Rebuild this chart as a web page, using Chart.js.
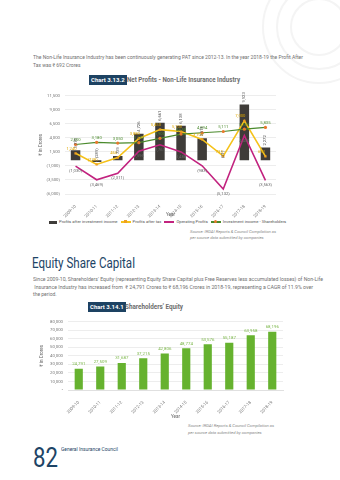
<!DOCTYPE html>
<html><head><meta charset="utf-8">
<script src="https://cdn.jsdelivr.net/npm/chart.js@4.4.0/dist/chart.umd.min.js"></script>
<style>
html,body{margin:0;padding:0;background:#fff;width:340px;height:480px;overflow:hidden;font-family:Roboto,"Liberation Sans",sans-serif;}
.abs{position:absolute;white-space:nowrap;transform-origin:0 0;line-height:1;}
.p{color:#707070;font-size:5px;}
.box{background:#1d4262;color:#fff;font-weight:bold;font-size:6px;padding:2px 2px;}
.ct{color:#6e6e6e;font-weight:bold;font-size:6.5px;}
.src{color:#8a8a8a;font-style:italic;font-size:4.2px;}
.leg{font-size:4.2px;color:#555;display:flex;align-items:center;}
.leg span.sw{display:inline-block;position:relative;margin-right:2px;}
.ring{position:absolute;border-radius:50%;border:2px solid #f4f4f4;}
canvas{position:absolute;}
</style></head>
<body>
<div class="ring" style="left:262px;top:-30px;width:110px;height:110px;"></div>
<div class="ring" style="left:276px;top:-16px;width:82px;height:82px;"></div>
<div class="ring" style="left:290px;top:-2px;width:54px;height:54px;"></div>

<div class="abs p" data-fit="270" style="left:33px;top:55px;">The Non-Life Insurance Industry has been continuously generating PAT since 2012-13. In the year 2018-19 the Profit After</div>
<div class="abs p" style="left:33px;top:63px;">Tax was ₹ 692 Crores</div>

<div class="abs box" style="left:89px;top:75px;">Chart 3.13.2</div>
<div class="abs ct" data-fit="113" style="left:127px;top:77px;">Net Profits - Non-Life Insurance Industry</div>

<canvas id="c1" width="243" height="130" style="left:37px;top:88px;"></canvas>

<div class="abs leg" style="left:49px;top:220px;">
  <span class="sw" style="width:8px;height:3px;background:#3f3c39;"></span><span style="margin-right:3px;">Profits after investment income</span>
  <span class="sw" style="width:10px;height:1.3px;background:#f5c21b;"><i style="position:absolute;left:3.5px;top:-1px;width:3px;height:3px;background:#f0a020;"></i></span><span style="margin-right:3px;">Profits after tax</span>
  <span class="sw" style="width:10px;height:1.3px;background:#c2237f;"></span><span style="margin-right:3px;">Operating Profits</span>
  <span class="sw" style="width:10px;height:1.3px;background:#4a8a2c;"><i style="position:absolute;left:3.5px;top:-1px;width:3px;height:3px;border-radius:50%;background:#e8782c;"></i></span><span>Investment income - Shareholders</span>
</div>

<div class="abs src" style="left:190px;top:230px;">Source: IRDAI Reports &amp; Council Compilation as</div>
<div class="abs src" style="left:190px;top:236px;">per source data submitted by companies</div>

<div class="abs" data-fit="103" style="left:32px;top:256px;font-family:'Liberation Sans Narrow',Roboto,sans-serif;font-size:14px;color:#1d4466;">Equity Share Capital</div>

<div class="abs p" data-fit="290" style="left:33px;top:277px;">Since 2009-10, Shareholders' Equity (representing Equity Share Capital plus Free Reserves less accumulated losses) of Non-Life</div>
<div class="abs p" data-fit="280" style="left:33px;top:284.5px;">&nbsp;Insurance Industry has increased from &nbsp;₹ 24,791 Crores to ₹ 68,196 Crores in 2018-19, representing a CAGR of 11.9% over</div>
<div class="abs p" style="left:33px;top:291.5px;">the period.</div>

<div class="abs box" style="left:88px;top:302px;">Chart 3.14.1</div>
<div class="abs ct" data-fit="58" style="left:125px;top:304px;">Shareholders' Equity</div>

<canvas id="c2" width="248" height="106" style="left:38px;top:314px;"></canvas>

<div class="abs src" style="left:188px;top:424px;">Source: IRDAI Reports &amp; Council Compilation as</div>
<div class="abs src" style="left:188px;top:430.5px;">per source data submitted by companies</div>

<div class="abs" data-fit="25" style="left:33px;top:445px;font-family:'Liberation Sans Narrow',Roboto,sans-serif;font-size:27px;color:#1d4466;">82</div>
<div class="abs" data-fit="57" style="left:61px;top:448px;font-family:'Liberation Sans Narrow',Roboto,sans-serif;font-size:4.5px;color:#1d4466;">General Insurance Council</div>

<script>
// ---------- DATA ----------
const years = ['2009-10','2010-11','2011-12','2012-13','2013-14','2014-15','2015-16','2016-17','2017-18','2018-19'];
const profitsAfterInvestmentIncome = [1770, -289, 739, 4726, 6661, 6138, 3911, -21, 9923, 2272];
const profitsAfterTax = [1240, -748, 466, 3880, 5450, 5100, 3700, 735, 7000, 692];
const operatingProfits = [-1030, -3469, -2311, 1596, 2761, 1488, -983, -5132, 4400, -3563];
const investmentIncomeShareholders = [2800, 3180, 3050, 3130, 3900, 4650, 4894, 5111, 5523, 5835];
const netProfitTicks = [-6000, -3500, -1000, 1500, 4000, 6500, 9000, 11500];

const shareholdersEquity = [24791, 27509, 31687, 37215, 42806, 48774, 53576, 55187, 63958, 68196];
const equityTicks = [0, 10000, 20000, 30000, 40000, 50000, 60000, 70000, 80000];

// ---------- helpers ----------
document.querySelectorAll('[data-fit]').forEach(el=>{
  const w = el.getBoundingClientRect().width;
  const t = parseFloat(el.dataset.fit);
  if (w>0) el.style.transform = 'scaleX(' + (t/w) + ')';
});
const FONT = 'Roboto';
Chart.defaults.font.family = FONT;
Chart.defaults.color = '#777';
const fmt = v => { const s = Math.abs(v).toLocaleString('en-US'); return v<0 ? '('+s+')' : s; };

const labelPlugin = {
  id:'valueLabels',
  afterDatasetsDraw(chart){
    const ctx = chart.ctx;
    chart.data.datasets.forEach((ds,i)=>{
      const st = ds.valueLabel; if(!st) return;
      const meta = chart.getDatasetMeta(i);
      meta.data.forEach((el,j)=>{
        const v = ds.data[j], txt = fmt(v);
        ctx.save();
        ctx.font = st.size + 'px ' + FONT;
        ctx.fillStyle = st.color;
        if (st.mode === 'barV') {
          const y = Math.min(el.y, el.base) - 2;
          ctx.translate(el.x, y); ctx.rotate(-Math.PI/2);
          ctx.textAlign='left'; ctx.textBaseline='middle';
          ctx.fillText(txt, 0, 0);
        } else if (st.mode === 'above') {
          ctx.textAlign='center'; ctx.textBaseline='bottom';
          ctx.fillText(txt, el.x + (st.dx||0), el.y - 2.5);
        } else if (st.mode === 'below') {
          ctx.textAlign='center'; ctx.textBaseline='top';
          ctx.fillText(txt, el.x + (st.dx||0), el.y + 3);
        }
        ctx.restore();
      });
    });
  }
};

// ---------- Chart 1 ----------
new Chart(document.getElementById('c1'), {
  data: {
    labels: years,
    datasets: [
      { type:'line', label:'Profits after tax', data: profitsAfterTax, order:2,
        borderColor:'#f5c21b', borderWidth:1.6, pointStyle:'rect', pointRadius:1.6,
        pointBackgroundColor:'#f0a020', pointBorderWidth:0, tension:0,
        valueLabel:{mode:'above', color:'#e0a800', size:4.2, dx:-4} },
      { type:'line', label:'Operating Profits', data: operatingProfits, order:3,
        borderColor:'#c2237f', borderWidth:1.6, pointRadius:0, tension:0,
        valueLabel:{mode:'below', color:'#666', size:4.2} },
      { type:'line', label:'Investment income - Shareholders', data: investmentIncomeShareholders, order:1,
        borderColor:'#4a8a2c', borderWidth:1.2, pointRadius:1.6, pointBorderWidth:0,
        pointBackgroundColor:'#e8782c', tension:0,
        valueLabel:{mode:'above', color:'#4a8a2c', size:4.2} },
      { type:'bar', label:'Profits after investment income', data: profitsAfterInvestmentIncome, order:4,
        backgroundColor:'#3f3c39', barPercentage:0.45, categoryPercentage:1,
        valueLabel:{mode:'barV', color:'#555', size:4.2} }
    ]
  },
  options: {
    responsive:false, animation:false, devicePixelRatio:1,
    layout:{padding:{top:7, right:3, left:0, bottom:0}},
    plugins:{legend:{display:false}, tooltip:{enabled:false}},
    scales:{
      x:{
        grid:{display:false}, border:{display:false},
        ticks:{font:{size:4.3}, color:'#777', minRotation:45, maxRotation:45, autoSkip:false, padding:2},
        title:{display:true, text:'Year', font:{size:4.6}, color:'#666', padding:0},
        afterFit: s => { s.height = 24; }
      },
      y:{
        min:-6000, max:11500,
        afterBuildTicks: s => { s.ticks = netProfitTicks.map(v=>({value:v})); },
        grid:{color:'#e8e8e8', lineWidth:0.8, drawTicks:false}, border:{display:false},
        ticks:{font:{size:4.3}, color:'#777', padding:5, callback: v => fmt(v)},
        title:{display:true, text:'₹ in Crores', font:{size:4.6}, color:'#666', padding:{top:1,bottom:0}},
        afterFit: s => { s.width = 28; }
      }
    }
  },
  plugins:[labelPlugin]
});

// ---------- Chart 2 ----------
new Chart(document.getElementById('c2'), {
  type:'bar',
  data:{
    labels: years,
    datasets:[{ label:"Shareholders' Equity", data: shareholdersEquity,
      backgroundColor:'#66b22f', barPercentage:0.38, categoryPercentage:1,
      valueLabel:{mode:'above', color:'#7ab648', size:4.4} }]
  },
  options:{
    responsive:false, animation:false, devicePixelRatio:1,
    layout:{padding:{top:7, right:3, left:0, bottom:0}},
    plugins:{legend:{display:false}, tooltip:{enabled:false}},
    scales:{
      x:{
        grid:{display:false}, border:{color:'#e0e0e0'},
        ticks:{font:{size:4.3}, color:'#777', minRotation:45, maxRotation:45, autoSkip:false, padding:2},
        title:{display:true, text:'Year', font:{size:4.6}, color:'#666', padding:0},
        afterFit: s => { s.height = 30; }
      },
      y:{
        min:0, max:80000,
        afterBuildTicks: s => { s.ticks = equityTicks.map(v=>({value:v})); },
        grid:{color:'#e8e8e8', lineWidth:0.8, drawTicks:false}, border:{display:false},
        ticks:{font:{size:4.3}, color:'#777', padding:5, callback: v => v===0 ? '-' : v.toLocaleString('en-US')},
        title:{display:true, text:'₹ in Crores', font:{size:4.6}, color:'#666', padding:{top:1,bottom:0}},
        afterFit: s => { s.width = 30; }
      }
    }
  },
  plugins:[labelPlugin]
});
</script>
</body></html>
